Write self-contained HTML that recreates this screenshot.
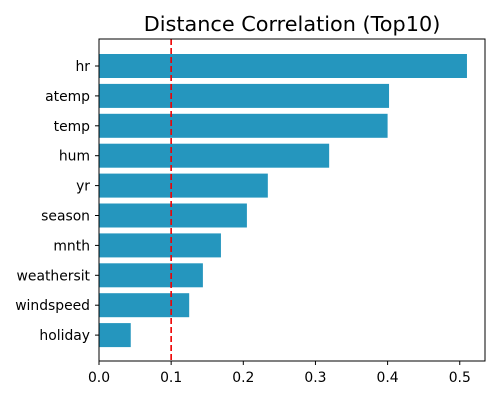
<!DOCTYPE html>
<html><head><meta charset="utf-8"><style>
body{margin:0;background:#fff;width:500px;height:400px;overflow:hidden;font-family:"DejaVu Sans",sans-serif}
</style></head><body>
<svg width="500" height="400" id="chart" xmlns="http://www.w3.org/2000/svg" font-family="DejaVu Sans, sans-serif">
<text x="292" y="31" text-anchor="middle" font-size="20.8">Distance Correlation (Top10)</text>
<g id="bars"></g>
<g id="axes"></g>
</svg>
<script>
const categories=["hr","atemp","temp","hum","yr","season","mnth","weathersit","windspeed","holiday"];
const values=[0.510,0.402,0.400,0.319,0.234,0.205,0.169,0.144,0.125,0.044];
const xTicks=[0.0,0.1,0.2,0.3,0.4,0.5];
const xTickLabels=["0.0","0.1","0.2","0.3","0.4","0.5"];
const threshold=0.1;
const L=99,R=485,T=39,B=361,xMax=0.535;
const NS="http://www.w3.org/2000/svg";
function x(v){return L+(R-L)*v/xMax;}
function y(i){return 66+29.9*i;}
function mk(t,a,p){const e=document.createElementNS(NS,t);for(const k in a)e.setAttribute(k,a[k]);p.appendChild(e);return e;}
const bars=document.getElementById('bars'),axes=document.getElementById('axes');
categories.forEach((c,i)=>{
 const r=mk('rect',{x:x(0),y:y(i)-12,width:x(values[i])-x(0),height:24,fill:'#2596be'},bars);
 
 
 mk('line',{x1:L-4,x2:L,y1:y(i),y2:y(i),stroke:'#000'},axes);
 const t=mk('text',{x:L-9,y:y(i)+5,'text-anchor':'end','font-size':13.9},axes);
 t.textContent=c;
 
 
});
const d=mk('line',{x1:x(threshold),x2:x(threshold),y1:T,y2:B,stroke:'#e00',"stroke-width":1.6,"stroke-dasharray":"6,3"},bars);


const fr=mk('rect',{x:L,y:T,width:R-L,height:B-T,fill:'none',stroke:'#000','stroke-width':1},axes);


xTicks.forEach((v,i)=>{
 mk('line',{x1:x(v),x2:x(v),y1:B,y2:B+4,stroke:'#000'},axes);
 const t=mk('text',{x:x(v),y:B+21,'text-anchor':'middle','font-size':13.9},axes);
 t.textContent=xTickLabels[i];
 
 
});
</script>
</body></html>
